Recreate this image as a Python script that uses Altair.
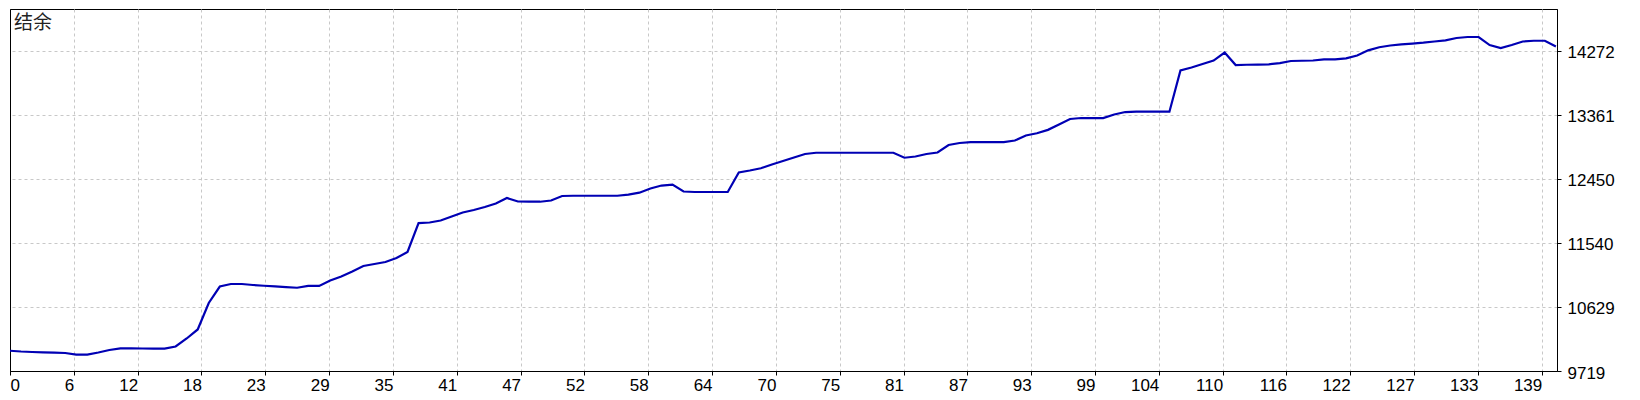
import json
import altair as alt
import pandas as pd

# balance curve (结余), one value per trade index 0..140
balance = [
    10007, 9996, 9989, 9985, 9979, 9975, 9953, 9951, 9982, 10017,
    10041, 10041, 10039, 10036, 10036, 10067, 10181, 10309, 10685, 10919,
    10955, 10955, 10941, 10930, 10920, 10912, 10902, 10927, 10927, 11005,
    11061, 11132, 11211, 11239, 11267, 11324, 11410, 11821, 11829, 11857,
    11914, 11971, 12006, 12049, 12099, 12177, 12127, 12124, 12124, 12141,
    12205, 12209, 12209, 12209, 12209, 12209, 12226, 12252, 12312, 12354,
    12366, 12269, 12262, 12262, 12262, 12262, 12539, 12567, 12599, 12653,
    12702, 12752, 12802, 12820, 12820, 12820, 12820, 12820, 12820, 12820,
    12820, 12749, 12766, 12802, 12823, 12930, 12958, 12972, 12972, 12972,
    12972, 12993, 13065, 13096, 13145, 13221, 13299, 13313, 13313, 13313,
    13363, 13398, 13403, 13403, 13403, 13403, 13988, 14031, 14080, 14130,
    14244, 14066, 14070, 14073, 14076, 14094, 14123, 14127, 14130, 14147,
    14147, 14161, 14201, 14275, 14319, 14343, 14360, 14371, 14383, 14400,
    14417, 14450, 14464, 14464, 14350, 14308, 14350, 14400, 14411, 14411,
    14329,
]
trade = list(range(len(balance)))

x_labels = ["0", "6", "12", "18", "23", "29", "35", "41", "47", "52", "58", "64",
            "70", "75", "81", "87", "93", "99", "104", "110", "116", "122",
            "127", "133", "139"]
y_ticks = [9719, 10629, 11540, 12450, 13361, 14272]
title_text = "结余"

x_step = 5.78
x_ticks = [i * x_step for i in range(len(x_labels))]

df = pd.DataFrame({"trade": trade, "balance": balance})

grid_color = "#c8c8c8"
font = "Liberation Sans"
first = "datum.value < 1"

x_axis = alt.Axis(
    values=x_ticks,
    labelExpr=json.dumps(x_labels) + "[round(datum.value / " + str(x_step) + ")]",
    labelAlign={"condition": {"test": first, "value": "left"}, "value": "right"},
    labelFlush=False,
    labelOverlap=False,
    labelBaseline="top",
    labelPadding=2,
    labelFont=font,
    labelFontSize=17,
    labelColor="black",
    tickSize=4,
    tickColor="black",
    domainColor="black",
    grid=True,
    # the gridline at 0 sits on the left frame: keep it solid black
    gridColor={"condition": {"test": first, "value": "black"}, "value": grid_color},
    gridDash={"condition": {"test": first, "value": []}, "value": [3, 3]},
    title=None,
)

y_axis = alt.Axis(
    orient="right",
    values=y_ticks,
    format="d",
    labelAlign="left",
    labelBaseline="middle",
    labelOffset=2,
    labelPadding=6,
    labelFont=font,
    labelFontSize=17,
    labelColor="black",
    labelOverlap=False,
    tickSize=4,
    tickColor="black",
    domainColor="black",
    grid=True,
    gridColor=grid_color,
    gridDash=[3, 3],
    title=None,
)

line = alt.Chart(df).mark_line(color="#0000b4", strokeWidth=2.2, clip=True).encode(
    x=alt.X("trade:Q", scale=alt.Scale(domain=[0, 140.1], nice=False, zero=False), axis=x_axis),
    y=alt.Y("balance:Q", scale=alt.Scale(domain=[9719, 14862], nice=False, zero=False), axis=y_axis),
)

label = alt.Chart(pd.DataFrame({"t": [title_text]})).mark_text(
    align="left", baseline="top", font="Noto Sans CJK SC", fontSize=19, color="#222222"
).encode(
    text="t:N",
    x=alt.value(4),
    y=alt.value(5),
)

chart = alt.layer(line, label).properties(
    width=1547,
    height=362,
    padding={"left": 1, "top": 1, "right": 0, "bottom": 0},
    background="white",
).configure_view(stroke="black", strokeWidth=1)

chart.save("out.html", embed_options={"renderer": "svg", "actions": False})
